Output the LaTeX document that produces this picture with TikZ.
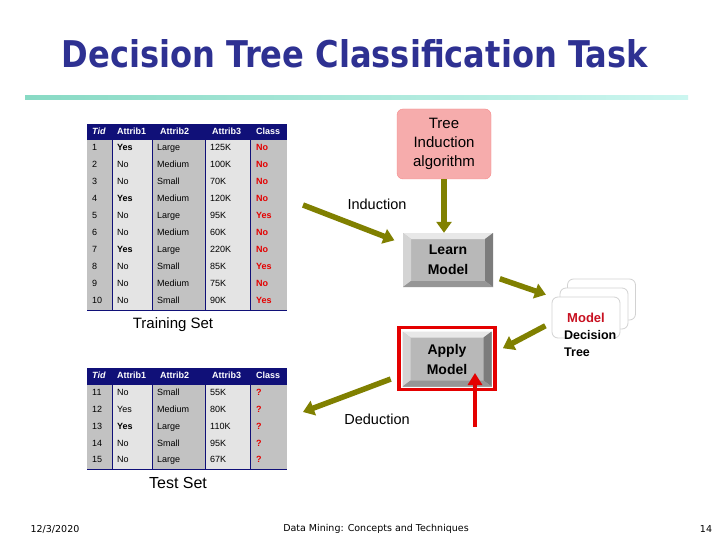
\documentclass[tikz,border=0pt]{standalone}
\usepackage{fontspec}
\setmainfont{Liberation Sans}
\newfontfamily\titlefont{DejaVu Sans}
\usetikzlibrary{arrows.meta,positioning}

\definecolor{titleblue}{RGB}{46,49,146}
\definecolor{hdrblue}{RGB}{16,16,120}
\definecolor{olivearr}{RGB}{128,128,0}
\definecolor{classred}{RGB}{228,0,0}
\definecolor{modelred}{RGB}{200,16,32}
\definecolor{algopink}{RGB}{246,172,172}
\definecolor{colgray}{RGB}{194,194,194}
\definecolor{collight}{RGB}{228,228,228}
\definecolor{btnface}{RGB}{184,184,184}
\definecolor{btnlight}{RGB}{232,232,232}
\definecolor{btnleft}{RGB}{212,212,212}
\definecolor{btnright}{RGB}{124,124,124}
\definecolor{btnbottom}{RGB}{150,150,150}
\definecolor{lineleft}{RGB}{136,218,196}
\definecolor{lineright}{RGB}{204,246,240}

\begin{document}
\begin{tikzpicture}[x=1pt, y=-1pt,
  cell/.style={anchor=west, inner sep=0pt, text height=6.5pt, text depth=2pt,
    font=\fontsize{9}{10}\selectfont},
  hdr/.style={cell, text=white, font=\bfseries\fontsize{9}{10}\selectfont},
  cls/.style={cell, text=classred, font=\bfseries\fontsize{9}{10}\selectfont},
  lbl/.style={inner sep=0pt, font=\fontsize{15}{17}\selectfont},
  arr/.style={-{Triangle[length=11pt,width=15pt]}, line width=5.5pt, olivearr},
  redarr/.style={-{Triangle[length=12pt,width=14pt]}, line width=4pt, classred},
  button/.style={minimum width=90pt, minimum height=54pt, inner sep=0pt,
    align=center, fill=btnface, font=\bfseries\fontsize{14}{20}\selectfont,
    path picture={
      \path (path picture bounding box.north west) coordinate (bnw)
            (path picture bounding box.south east) coordinate (bse);
      \fill[btnlight] (bnw) -- (bnw -| bse) -- ([shift={(-8pt,-6pt)}]bnw -| bse)
        -- ([shift={(8pt,-6pt)}]bnw) -- cycle;
      \fill[btnleft] (bnw) -- ([shift={(8pt,-6pt)}]bnw) -- ([shift={(8pt,6pt)}]bse -| bnw)
        -- (bse -| bnw) -- cycle;
      \fill[btnright] (bnw -| bse) -- (bse) -- ([shift={(-8pt,6pt)}]bse)
        -- ([shift={(-8pt,-6pt)}]bnw -| bse) -- cycle;
      \fill[btnbottom] (bse -| bnw) -- (bse) -- ([shift={(-8pt,6pt)}]bse)
        -- ([shift={(8pt,6pt)}]bse -| bnw) -- cycle;
    }},
  card/.style={draw=gray!35, fill=white, rounded corners=6pt,
    minimum width=68pt, minimum height=41pt, line width=0.8pt}
]
\useasboundingbox (0,0) rectangle (720,540);
\fill[white] (0,0) rectangle (720,540);

% title
\node[text=titleblue, inner sep=0pt] (title) at (355,54)
  {\resizebox{586pt}{28pt}{\titlefont\bfseries Decision Tree Classification Task}};
\shade[left color=lineleft, right color=lineright] (25,96) rectangle (688,100);

% training set
\fill[hdrblue] (87,124) rectangle (287,140);
\foreach \xa/\xb/\col in {87/112/colgray, 112/152/collight, 152/205/colgray,
    205/250/collight, 250/287/colgray}
  \fill[\col] (\xa,140) rectangle (\xb,310);
\foreach \x in {112,152,205,250}
  \draw[hdrblue, line width=0.6pt] (\x,140) -- (\x,310);
\draw[hdrblue, line width=1pt] (87,310) -- (287,310);
\node[hdr] (tr-h1) at (92,132) {\itshape Tid};
\node[hdr] (tr-h2) at (117,132) {Attrib1};
\node[hdr] (tr-h3) at (160,132) {Attrib2};
\node[hdr] (tr-h4) at (212,132) {Attrib3};
\node[hdr] (tr-h5) at (256,132) {Class};
\foreach \t/\a/\b/\c/\k [count=\i] in {1/\textbf{Yes}/Large/125K/No,
    2/No/Medium/100K/No, 3/No/Small/70K/No, 4/\textbf{Yes}/Medium/120K/No,
    5/No/Large/95K/Yes, 6/No/Medium/60K/No, 7/\textbf{Yes}/Large/220K/No,
    8/No/Small/85K/Yes, 9/No/Medium/75K/No, 10/No/Small/90K/Yes} {
  \node[cell] (tr\i-tid) at (92,{131.5+17*\i}) {\t};
  \node[cell] (tr\i-a) at (117,{131.5+17*\i}) {\a};
  \node[cell] (tr\i-b) at (157,{131.5+17*\i}) {\b};
  \node[cell] (tr\i-c) at (210,{131.5+17*\i}) {\c};
  \node[cls] (tr\i-k) at (256,{131.5+17*\i}) {\k};
}
\node[lbl] (trainlbl) at (173,325) {Training Set};

% test set
\fill[hdrblue] (87,368) rectangle (287,385);
\foreach \xa/\xb/\col in {87/112/colgray, 112/152/collight, 152/205/colgray,
    205/250/collight, 250/287/colgray}
  \fill[\col] (\xa,385) rectangle (\xb,469);
\foreach \x in {112,152,205,250}
  \draw[hdrblue, line width=0.6pt] (\x,385) -- (\x,469);
\draw[hdrblue, line width=1pt] (87,469) -- (287,469);
\node[hdr] (ts-h1) at (92,376.5) {\itshape Tid};
\node[hdr] (ts-h2) at (117,376.5) {Attrib1};
\node[hdr] (ts-h3) at (160,376.5) {Attrib2};
\node[hdr] (ts-h4) at (212,376.5) {Attrib3};
\node[hdr] (ts-h5) at (256,376.5) {Class};
\foreach \t/\a/\b/\c/\k [count=\i] in {11/No/Small/55K/?,
    12/Yes/Medium/80K/?, 13/\textbf{Yes}/Large/110K/?, 14/No/Small/95K/?,
    15/No/Large/67K/?} {
  \node[cell] (ts\i-tid) at (92,{376.6+16.8*\i}) {\t};
  \node[cell] (ts\i-a) at (117,{376.6+16.8*\i}) {\a};
  \node[cell] (ts\i-b) at (157,{376.6+16.8*\i}) {\b};
  \node[cell] (ts\i-c) at (210,{376.6+16.8*\i}) {\c};
  \node[cls] (ts\i-k) at (256,{376.6+16.8*\i}) {\k};
}
\node[lbl, font=\fontsize{16}{18}\selectfont] (testlbl) at (178,483) {Test Set};

% tree induction, learn and apply
\node[draw=algopink!80!red, fill=algopink, rounded corners=6pt, minimum width=94pt,
  minimum height=70pt, align=center, font=\fontsize{15}{19}\selectfont] (algo)
  at (444,144) {Tree\\Induction\\algorithm};
\node[button] (learn) at (448,260) {Learn\\Model};
\node[button, minimum width=89pt, minimum height=55pt] (applybtn) at (447,359) {Apply\\Model};
\node[draw=classred, line width=3.5pt, minimum width=96pt, minimum height=62pt,
  inner sep=0pt] (apply) at (447,358.5) {};

% model stack
\node[card] (back) at (601.5,299.5) {};
\node[card] (mid) at (594,308.5) {};
\node[card, text=modelred, font=\bfseries\fontsize{13}{15}\selectfont] (front)
  at (586,317.5) {Model};
\node[anchor=west, align=left, inner sep=0pt,
  font=\bfseries\fontsize{12.5}{17}\selectfont] (dtree) at (564,343.5) {Decision\\Tree};

\node[lbl, font=\fontsize{14.5}{17}\selectfont] (induction) at (377,204) {Induction};
\node[lbl, font=\fontsize{14.5}{17}\selectfont] (deduction) at (377,419) {Deduction};

% connectors
\coordinate (indstart) at (303,205);
\coordinate (dedend) at (303,412);
\coordinate (redstart) at (475,427);
\draw[arr, shorten >=9pt] (indstart) -- (learn.160);
\draw[arr] (algo.south) -- (algo.south |- learn.north);
\draw[arr, shorten <=7pt, shorten >=6pt] (learn.-20) -- (front.north west);
\draw[arr, shorten <=7pt, shorten >=7pt] ([yshift=-5pt]front.west) -- (apply.8);
\draw[arr, shorten <=7pt] (apply.-160) -- (dedend);
\draw[redarr, shorten >=14.5pt] (redstart) -- (redstart |- apply.center);

% footer
\node[font=\titlefont\fontsize{9.5}{11}\selectfont, inner sep=0pt] (date) at (55,529) {12/3/2020};
\node[font=\titlefont\fontsize{9.5}{11}\selectfont, inner sep=0pt] (course) at (376,529)
  {Data Mining: Concepts and Techniques};
\node[font=\titlefont\fontsize{9.5}{11}\selectfont, inner sep=0pt] (page) at (706,529) {14};
\end{tikzpicture}
\end{document}
